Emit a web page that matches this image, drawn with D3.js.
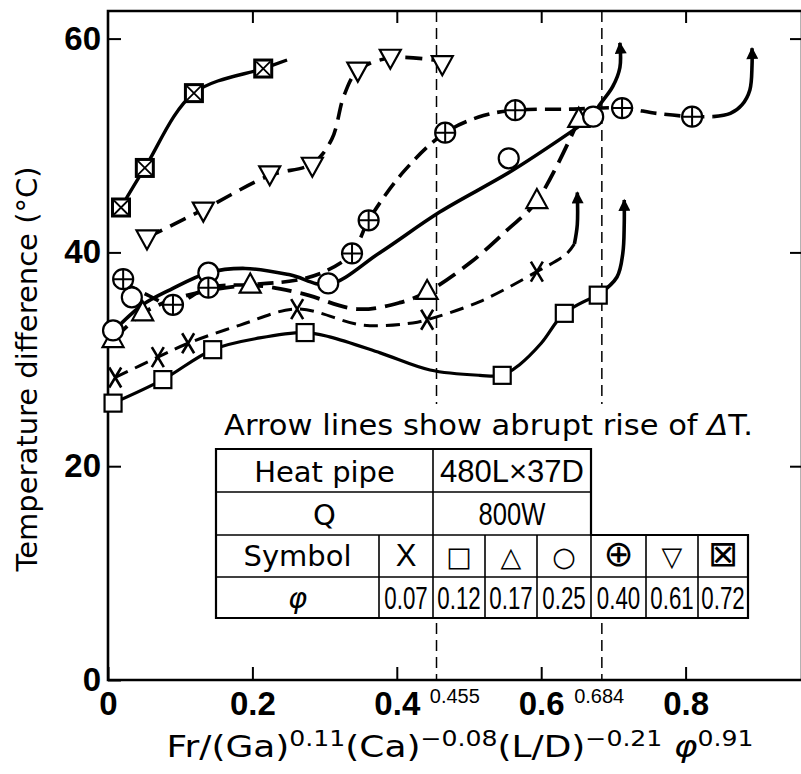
<!DOCTYPE html>
<html>
<head>
<meta charset="utf-8">
<script src="https://cdn.jsdelivr.net/npm/d3@7"></script>
<style>
  body { margin: 0; background: #fff; }
  svg { display: block; }
</style>
</head>
<body>
<svg id="chart" width="801" height="774"></svg>
<script>
/*****************************************
*   Data
*****************************************/

// axis ticks
const X_TICKS = [0, 0.2, 0.4, 0.6, 0.8];
const Y_TICKS = [0, 20, 40, 60];

// the two critical abscissas drawn as thin dashed lines
const CRITICAL_X = [0.455, 0.684];
const CRITICAL_LABEL = ['0.455', '0.684'];
const CRITICAL_BASE_TICK = [0.4, 0.6];

// phi = 0.07  (X)
const X07_MARKS = [[0.010, 28.3], [0.069, 30.2], [0.111, 31.5], [0.262, 34.7], [0.442, 33.7], [0.594, 38.2]];
const X07_CURVE = [[0.010, 28.3], [0.069, 30.2], [0.111, 31.5], [0.183, 33.2], [0.262, 34.7], [0.353, 33.2],
                   [0.422, 33.4], [0.442, 33.7], [0.515, 35.4], [0.594, 38.2], [0.634, 39.8], [0.646, 40.8]];
const X07_ARROW = [[0.646, 40.8], [0.650, 42.6], [0.650, 45.6]];

// phi = 0.12  (square)
const S12_MARKS = [[0.007, 25.9], [0.076, 28.1], [0.145, 30.9], [0.273, 32.5], [0.546, 28.5], [0.632, 34.3], [0.679, 36.0]];
const S12_CURVE = [[0.007, 25.9], [0.076, 28.1], [0.145, 30.9], [0.210, 32.0], [0.273, 32.5], [0.307, 32.1],
                   [0.377, 30.6], [0.446, 29.0], [0.515, 28.5], [0.546, 28.5], [0.570, 29.5], [0.600, 31.5],
                   [0.632, 34.3], [0.679, 36.0]];
const S12_ARROW = [[0.679, 36.0], [0.705, 37.7], [0.713, 39.9], [0.715, 42.6], [0.715, 44.9]];

// phi = 0.17  (triangle)
const T17_MARKS = [[0.007, 31.8], [0.048, 34.3], [0.197, 36.9], [0.442, 36.3], [0.594, 44.8], [0.652, 52.4]];
const T17_CURVE = [[0.007, 31.8], [0.048, 34.3], [0.100, 35.8], [0.197, 36.9], [0.266, 36.2], [0.345, 34.7],
                   [0.404, 35.3], [0.442, 36.3], [0.501, 39.0], [0.553, 42.1], [0.594, 44.8], [0.652, 52.4]];

// phi = 0.25  (circle)
const C25_MARKS = [[0.007, 32.7], [0.033, 35.8], [0.139, 38.1], [0.305, 37.1], [0.555, 48.8], [0.672, 52.7]];
const C25_CURVE = [[0.007, 32.6], [0.048, 35.1], [0.086, 36.5], [0.139, 38.1], [0.190, 38.5], [0.252, 37.9],
                   [0.305, 37.0], [0.377, 40.0], [0.460, 43.8], [0.561, 47.7], [0.672, 52.7]];
const C25_ARROW = [[0.672, 52.7], [0.679, 53.6], [0.699, 55.5], [0.709, 57.3], [0.709, 59.6]];

// phi = 0.40  (circle plus)
const P40_MARKS = [[0.021, 37.5], [0.090, 35.1], [0.139, 36.7], [0.338, 39.9], [0.361, 43.0], [0.467, 51.2],
                   [0.564, 53.3], [0.712, 53.5], [0.809, 52.7]];
const P40_CURVE = [[0.021, 37.2], [0.055, 36.0], [0.090, 35.1], [0.139, 36.7], [0.200, 37.0], [0.260, 37.4],
                   [0.300, 38.2], [0.338, 39.9], [0.361, 43.0], [0.410, 47.6], [0.467, 51.2], [0.520, 52.8],
                   [0.564, 53.3], [0.640, 53.4], [0.712, 53.5], [0.760, 53.0], [0.809, 52.7], [0.838, 52.7]];
const P40_ARROW = [[0.838, 52.7], [0.862, 53.0], [0.878, 53.8], [0.889, 55.2], [0.892, 57.5], [0.892, 59.1]];

// phi = 0.61  (inverted triangle)
const V61_MARKS = [[0.054, 41.4], [0.132, 44.0], [0.224, 47.4], [0.283, 48.2], [0.346, 57.1], [0.391, 58.3], [0.463, 57.7]];
const V61_CURVE = [[0.054, 41.4], [0.132, 44.0], [0.224, 47.2], [0.283, 48.3], [0.310, 50.6], [0.327, 54.7],
                   [0.346, 57.0], [0.391, 58.2], [0.463, 57.9]];

// phi = 0.72  (boxed X)
const B72_MARKS = [[0.018, 44.2], [0.051, 47.9], [0.119, 54.9], [0.215, 57.2]];
const B72_CURVE = [[0.018, 44.2], [0.051, 47.9], [0.119, 54.9], [0.215, 57.2], [0.248, 58.0]];

// legend table
const TABLE_HEAD = [['Heat pipe', '480L×37D'], ['Q', '800W']];
const SYMBOL_CHARS = ['X', '□', '△', '○', '⊕', '▽', '⊠'];
const PHI_VALUES = ['0.07', '0.12', '0.17', '0.25', '0.40', '0.61', '0.72'];
const NOTE_TEXT = 'Arrow lines show abrupt rise of ';

/*****************************************
*   Layout
*****************************************/

const LEFT = 108;
const TOP = 11;
const BOTTOM = 680;
const RIGHT = 802;

const TEXT_FONT = '"DejaVu Sans", sans-serif';
const NUM_FONT = '"Liberation Sans", Arial, sans-serif';

var svg = d3.select('#chart');

var xScale = d3.scaleLinear().domain([0, 1]).range([LEFT, 830]);
var yScale = d3.scaleLinear().domain([0, 60]).range([BOTTOM, 38.6]);

var series = [
    {sym: 'x',      marks: X07_MARKS, curve: X07_CURVE, arrow: X07_ARROW, dash: '14,8',  width: 3},
    {sym: 'square', marks: S12_MARKS, curve: S12_CURVE, arrow: S12_ARROW, dash: null,    width: 3.2},
    {sym: 'tri',    marks: T17_MARKS, curve: T17_CURVE, arrow: null,      dash: '20,9',  width: 3.8},
    {sym: 'circle', marks: C25_MARKS, curve: C25_CURVE, arrow: C25_ARROW, dash: null,    width: 3.6},
    {sym: 'oplus',  marks: P40_MARKS, curve: P40_CURVE, arrow: P40_ARROW, dash: '16,8',  width: 3.6},
    {sym: 'tridown',marks: V61_MARKS, curve: V61_CURVE, arrow: null,      dash: '17,9',  width: 3.6},
    {sym: 'boxx',   marks: B72_MARKS, curve: B72_CURVE, arrow: null,      dash: null,    width: 3.4}
];

var line = d3.line()
    .x(d => xScale(d[0]))
    .y(d => yScale(d[1]))
    .curve(d3.curveCatmullRom.alpha(0.5));

/*****************************************
*   Arrow head
*****************************************/

svg.append('defs')
    .append('marker')
    .attr('id', 'head')
    .attr('viewBox', '0 0 10 10')
    .attr('refX', 9)
    .attr('refY', 5)
    .attr('markerUnits', 'userSpaceOnUse')
    .attr('markerWidth', 14)
    .attr('markerHeight', 12)
    .attr('orient', 'auto')
    .append('path')
    .attr('d', 'M0,0 L10,5 L0,10 Z')
    .attr('fill', '#000');

/*****************************************
*   Frame and axes
*****************************************/

function draw_frame() {
    svg.append('path')
        .attr('d', 'M' + LEFT + ',' + TOP + ' V' + BOTTOM + ' H' + RIGHT + ' V' + TOP + ' Z')
        .attr('fill', 'none')
        .attr('stroke', '#000')
        .attr('stroke-width', 2.6);
}

function style_axis(g) {
    g.select('.domain').remove();
    g.selectAll('.tick line').attr('stroke', '#000').attr('stroke-width', 2);
    g.selectAll('.tick text')
        .attr('fill', '#000')
        .attr('font-family', NUM_FONT)
        .attr('font-weight', 'bold')
        .attr('font-size', 33);
}

function build_axes() {
    var yAxis = d3.axisLeft(yScale).tickValues(Y_TICKS).tickSize(-13).tickSizeOuter(0).tickPadding(7);
    svg.append('g')
        .attr('transform', 'translate(' + LEFT + ',0)')
        .call(yAxis)
        .call(style_axis);

    var xAxis = d3.axisBottom(xScale).tickValues(X_TICKS).tickSize(-13).tickSizeOuter(0).tickPadding(12)
        .tickFormat(d => d == 0 ? '0' : d3.format('.1f')(d));
    svg.append('g')
        .attr('transform', 'translate(0,' + BOTTOM + ')')
        .call(xAxis)
        .call(style_axis);

    var topAxis = d3.axisTop(xScale).tickValues(X_TICKS.slice(1)).tickSize(-12).tickSizeOuter(0).tickFormat('');
    svg.append('g')
        .attr('transform', 'translate(0,' + TOP + ')')
        .call(topAxis)
        .call(style_axis);

    var rightAxis = d3.axisRight(yScale).tickValues(Y_TICKS.slice(1)).tickSize(-12).tickSizeOuter(0).tickFormat('');
    svg.append('g')
        .attr('transform', 'translate(' + RIGHT + ',0)')
        .call(rightAxis)
        .call(style_axis);

    // little superscript labels for the critical values
    CRITICAL_LABEL.forEach(function(lab, i) {
        svg.append('text')
            .attr('x', xScale(CRITICAL_BASE_TICK[i]) + 33)
            .attr('y', 703)
            .attr('font-family', NUM_FONT)
            .attr('font-size', 20)
            .text(lab);
    });
}

function add_labels() {
    svg.append('text')
        .attr('transform', 'translate(37,369) rotate(-90)')
        .attr('text-anchor', 'middle')
        .attr('font-family', TEXT_FONT)
        .attr('font-size', 29)
        .text('Temperature difference (°C)');

    // Fr/(Ga)^0.11 (Ca)^-0.08 (L/D)^-0.21 phi^0.91
    var parts = [['Fr/(Ga)', 0], ['0.11', 1], ['(Ca)', 0], ['\u22120.08', 1], ['(L/D)', 0],
                 ['\u22120.21', 1], [' \u03c6', 0], ['0.91', 1]];
    var t = svg.append('text')
        .attr('x', 460)
        .attr('y', 757)
        .attr('text-anchor', 'middle')
        .attr('font-family', TEXT_FONT)
        .attr('font-size', 30)
        .attr('textLength', 587)
        .attr('lengthAdjust', 'spacingAndGlyphs');
    var up = false;
    parts.forEach(function(p) {
        var s = t.append('tspan').text(p[0]);
        if (p[1] && !up) { s.attr('dy', -11).attr('font-size', 21); up = true; }
        else if (p[1]) { s.attr('font-size', 21); }
        else if (up) { s.attr('dy', 11); up = false; }
        if (p[0].indexOf('\u03c6') >= 0) s.attr('font-style', 'italic');
    });
}

/*****************************************
*   Curves and symbols
*****************************************/

function draw_critical_lines() {
    svg.selectAll('line.critical')
        .data(CRITICAL_X)
        .enter()
          .append('line')
          .attr('class', 'critical')
          .attr('x1', d => xScale(d))
          .attr('x2', d => xScale(d))
          .attr('y1', TOP)
          .attr('y2', BOTTOM)
          .attr('stroke', '#000')
          .attr('stroke-width', 1.5)
          .attr('stroke-dasharray', '11,6');
}

function draw_curves() {
    series.forEach(function(s) {
        svg.append('path')
            .attr('d', line(s.curve))
            .attr('fill', 'none')
            .attr('stroke', '#000')
            .attr('stroke-width', s.width)
            .attr('stroke-dasharray', s.dash);
        if (s.arrow) {
            svg.append('path')
                .attr('d', line(s.arrow))
                .attr('fill', 'none')
                .attr('stroke', '#000')
                .attr('stroke-width', 3.6)
                .attr('marker-end', 'url(#head)');
        }
    });
}

function draw_marker(g, sym) {
    var st = {fill: '#fff', stroke: '#000', 'stroke-width': 2.2};
    function put(el) { Object.keys(st).forEach(k => el.attr(k, st[k])); return el; }
    if (sym == 'x') {
        g.append('path').attr('d', 'M-6,-10 L6,10 M6,-10 L-6,10')
            .attr('stroke', '#000').attr('stroke-width', 2.6).attr('fill', 'none');
    } else if (sym == 'square') {
        put(g.append('rect').attr('x', -8.5).attr('y', -8.5).attr('width', 17).attr('height', 17));
    } else if (sym == 'tri') {
        put(g.append('path').attr('d', 'M0,-12 L10.5,7 L-10.5,7 Z'));
    } else if (sym == 'tridown') {
        put(g.append('path').attr('d', 'M0,12 L10.5,-7 L-10.5,-7 Z'));
    } else if (sym == 'circle') {
        put(g.append('circle').attr('r', 10));
    } else if (sym == 'oplus') {
        put(g.append('circle').attr('r', 10));
        g.append('path').attr('d', 'M-10,0 H10 M0,-10 V10').attr('stroke', '#000').attr('stroke-width', 2);
    } else if (sym == 'boxx') {
        put(g.append('rect').attr('x', -8.5).attr('y', -8.5).attr('width', 17).attr('height', 17))
            .attr('stroke-width', 3);
        g.append('path').attr('d', 'M-7,-7 L7,7 M7,-7 L-7,7').attr('stroke', '#000').attr('stroke-width', 1.8);
    }
}

function draw_markers() {
    series.forEach(function(s) {
        svg.append('g')
            .selectAll('g')
            .data(s.marks)
            .enter()
              .append('g')
              .attr('transform', d => 'translate(' + xScale(d[0]) + ',' + yScale(d[1]) + ')')
              .each(function() { draw_marker(d3.select(this), s.sym); });
    });
}

/*****************************************
*   Note and legend table
*****************************************/

// narrow number text: squeeze horizontally like the original typeface
function narrow_text(x, y, str, size, squeeze) {
    return svg.append('text')
        .attr('transform', 'translate(' + x + ',' + y + ') scale(' + squeeze + ',1)')
        .attr('text-anchor', 'middle')
        .attr('font-family', NUM_FONT)
        .attr('font-size', size)
        .text(str);
}

function draw_table() {
    var colEdges = [216, 379, 433, 485, 537, 591, 646, 698, 748];
    var rowEdges = [449, 492, 535, 577, 618];
    var symbolSize = [31, 27, 27, 27, 36, 27, 36];

    // white backing so the dashed lines stop at the note
    svg.append('rect')
        .attr('x', 214).attr('y', 404).attr('width', 545).attr('height', 216)
        .attr('fill', '#fff');

    var note = svg.append('text')
        .attr('x', 224).attr('y', 435)
        .attr('font-family', TEXT_FONT)
        .attr('font-size', 29)
        .attr('textLength', 529)
        .attr('lengthAdjust', 'spacingAndGlyphs')
        .text(NOTE_TEXT);
    note.append('tspan').attr('font-style', 'italic').text('\u0394');
    note.append('tspan').text('T.');

    var g = svg.append('g')
        .attr('stroke', '#000')
        .attr('fill', 'none');

    // outline: two narrow head rows, two full rows
    g.append('path')
        .attr('d', 'M' + colEdges[0] + ',' + rowEdges[0] + ' H' + colEdges[5] + ' V' + rowEdges[2] +
                   ' H' + colEdges[8] + ' V' + rowEdges[4] + ' H' + colEdges[0] + ' Z')
        .attr('stroke-width', 2.2);
    // horizontal rules
    [1, 2, 3].forEach(function(r) {
        var right = r < 2 ? colEdges[5] : colEdges[8];
        g.append('line').attr('x1', colEdges[0]).attr('x2', right)
            .attr('y1', rowEdges[r]).attr('y2', rowEdges[r]).attr('stroke-width', 1.6);
    });
    // vertical rules
    g.append('line').attr('x1', colEdges[2]).attr('x2', colEdges[2])
        .attr('y1', rowEdges[0]).attr('y2', rowEdges[2]).attr('stroke-width', 1.6);
    colEdges.slice(1, 8).forEach(function(cx) {
        g.append('line').attr('x1', cx).attr('x2', cx)
            .attr('y1', rowEdges[2]).attr('y2', rowEdges[4]).attr('stroke-width', 1.6);
    });

    // head rows
    TABLE_HEAD.forEach(function(row, r) {
        svg.append('text')
            .attr('x', (colEdges[0] + colEdges[2]) / 2)
            .attr('y', rowEdges[r] + 33)
            .attr('text-anchor', 'middle')
            .attr('font-family', TEXT_FONT)
            .attr('font-size', 29)
            .text(row[0]);
        narrow_text((colEdges[2] + colEdges[5]) / 2, rowEdges[r] + 33, row[1], 32, r == 0 ? 0.97 : 0.8);
    });

    svg.append('text')
        .attr('x', (colEdges[0] + colEdges[1]) / 2)
        .attr('y', rowEdges[2] + 31)
        .attr('text-anchor', 'middle')
        .attr('font-family', TEXT_FONT)
        .attr('font-size', 29)
        .text('Symbol');
    svg.append('text')
        .attr('x', (colEdges[0] + colEdges[1]) / 2)
        .attr('y', rowEdges[3] + 31)
        .attr('text-anchor', 'middle')
        .attr('font-family', TEXT_FONT)
        .attr('font-style', 'italic')
        .attr('font-size', 29)
        .text('\u03c6');

    SYMBOL_CHARS.forEach(function(ch, i) {
        svg.append('text')
            .attr('x', (colEdges[i + 1] + colEdges[i + 2]) / 2)
            .attr('y', rowEdges[2] + 31)
            .attr('text-anchor', 'middle')
            .attr('font-family', i == 0 ? NUM_FONT : TEXT_FONT)
            .attr('font-size', symbolSize[i])
            .text(ch);
    });
    PHI_VALUES.forEach(function(v, i) {
        narrow_text((colEdges[i + 1] + colEdges[i + 2]) / 2, rowEdges[3] + 32, v, 31, 0.72);
    });
}

draw_frame();
draw_critical_lines();
draw_curves();
draw_markers();
draw_table();
build_axes();
add_labels();
</script>
</body>
</html>
